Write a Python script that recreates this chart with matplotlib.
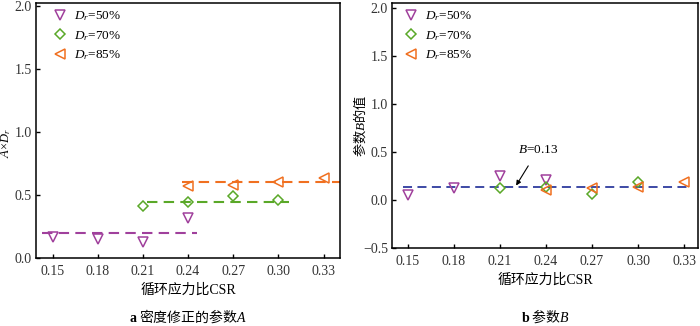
import numpy as np
import matplotlib
matplotlib.use('Agg')
import matplotlib.pyplot as plt

plt.rcParams['font.family'] = ['Liberation Serif', 'Noto Sans CJK SC', 'DejaVu Sans']
plt.rcParams['mathtext.fontset'] = 'custom'
plt.rcParams['mathtext.rm'] = 'Liberation Serif'
plt.rcParams['mathtext.it'] = 'Liberation Serif:italic'
plt.rcParams['mathtext.bf'] = 'Liberation Serif:bold'
plt.rcParams['axes.unicode_minus'] = True

# 数据
csr_ticks = [0.15, 0.18, 0.21, 0.24, 0.27, 0.30, 0.33]

# a 密度修正的参数A
a50_x = [0.15, 0.18, 0.21, 0.24]
a50_y = [0.165, 0.15, 0.13, 0.32]
a70_x = [0.21, 0.24, 0.27, 0.30]
a70_y = [0.41, 0.44, 0.49, 0.46]
a85_x = [0.24, 0.27, 0.30, 0.33]
a85_y = [0.57, 0.58, 0.60, 0.635]
a50_fit = 0.20
a70_fit = 0.445
a85_fit = 0.605

# b 参数B
b50_x = [0.15, 0.18, 0.21, 0.24]
b50_y = [0.05, 0.12, 0.245, 0.21]
b70_x = [0.21, 0.24, 0.27, 0.30]
b70_y = [0.125, 0.13, 0.06, 0.185]
b85_x = [0.24, 0.27, 0.30, 0.33]
b85_y = [0.10, 0.12, 0.14, 0.185]
b_fit = 0.14

c50 = '#a0409c'
c70 = '#5aa828'
c85 = '#f07020'
cfit = '#2e3c9e'
tick_col = '#333333'
cjk = 'Noto Sans CJK SC'

fig = plt.figure(figsize=(7, 3.26), dpi=100)
ax1 = fig.add_axes([0.0514, 0.2086, 0.4346, 0.7822])
ax2 = fig.add_axes([0.56, 0.2393, 0.437, 0.7515])

mk = dict(fillstyle='none', markersize=7, markeredgewidth=1.1, linestyle='none')
mkd = {**mk, 'markersize': 5.5}
dash = (0, (5, 3))

# 左图
ax1.plot([0.143, 0.246], [a50_fit, a50_fit], color=c50, lw=1.5, linestyle=dash)
ax1.plot([0.2127, 0.307], [a70_fit, a70_fit], color=c70, lw=1.5, linestyle=dash)
ax1.plot([0.236, 0.342], [a85_fit, a85_fit], color=c85, lw=1.5, linestyle=dash)
ax1.plot(a50_x, a50_y, marker='v', color=c50, label=r'$D_r$=50%', **mk)
ax1.plot(a70_x, a70_y, marker='D', color=c70, label=r'$D_r$=70%', **mkd)
ax1.plot(a85_x, a85_y, marker='<', color=c85, label=r'$D_r$=85%', **mk)
ax1.set_xlim(0.139, 0.341)
ax1.set_ylim(0, 2.02)
ax1.set_yticks([0.0, 0.5, 1.0, 1.5, 2.0])
ax1.set_ylabel(r'$A$×$D_r$', fontsize=9)
ax1.yaxis.set_label_coords(-0.075, 0.45)

# 右图
ax2.plot([0.147, 0.334], [b_fit, b_fit], color=cfit, lw=1.3, linestyle=dash)
ax2.plot(b50_x, b50_y, marker='v', color=c50, label=r'$D_r$=50%', **mk)
ax2.plot(b70_x, b70_y, marker='D', color=c70, label=r'$D_r$=70%', **mkd)
ax2.plot(b85_x, b85_y, marker='<', color=c85, label=r'$D_r$=85%', **mk)
ax2.set_xlim(0.1396, 0.339)
ax2.set_ylim(-0.5, 2.05)
ax2.set_yticks([-0.5, 0.0, 0.5, 1.0, 1.5, 2.0])
ax2.set_ylabel(r'参数$B$的值', fontsize=9.5, family=cjk)
ax2.yaxis.set_label_coords(-0.08, 0.5)
ax2.annotate(r'$B$=0.13', xy=(0.2205, 0.15), xytext=(0.2348, 0.52),
             fontsize=9.5, ha='center', va='center',
             arrowprops=dict(arrowstyle='-|>', color='black', lw=0.8,
                             mutation_scale=7, shrinkA=6, shrinkB=0))

for ax, lx in ((ax1, 0.035), (ax2, 0.018)):
    ax.set_xticks(csr_ticks)
    ax.set_xticklabels(['%.2f' % v for v in csr_ticks])
    ax.tick_params(direction='in', length=3, width=1, labelsize=10,
                   labelcolor=tick_col)
    ax.tick_params(axis='x', pad=5)
    ax.tick_params(axis='y', pad=3)
    for s in ax.spines.values():
        s.set_linewidth(1.1)
    ax.set_xlabel('循环应力比CSR', fontsize=10, labelpad=4)
    ax.legend(loc='upper left', bbox_to_anchor=(lx, 0.995), frameon=False,
              fontsize=9.5, handletextpad=0.45, labelspacing=0.42,
              borderaxespad=0.0, handlelength=1.2)

fig.text(0.2686, 0.03, r'$\mathbf{a}$ 密度修正的参数$A$', ha='center',
         va='center', fontsize=10, family=cjk)
fig.text(0.7786, 0.03, r'$\mathbf{b}$ 参数$B$', ha='center',
         va='center', fontsize=10, family=cjk)

fig.savefig('out.png', dpi=100)
